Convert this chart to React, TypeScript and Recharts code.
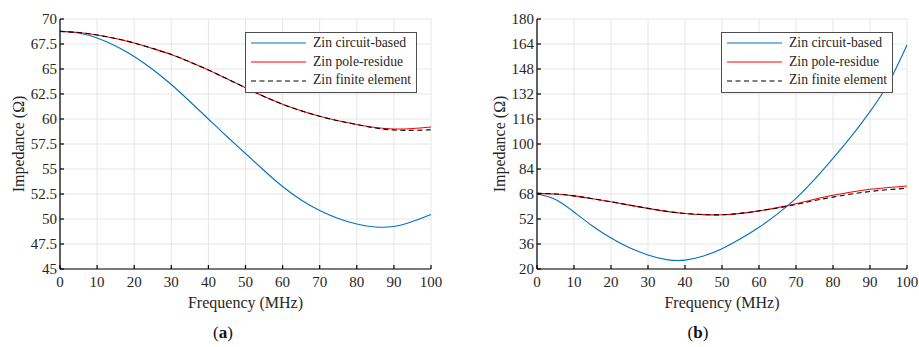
import { LineChart, Line, XAxis, YAxis, CartesianGrid, Legend } from 'recharts'

const freq = [0, 5, 10, 15, 20, 25, 30, 35, 40, 45, 50, 55, 60, 65, 70, 75, 80, 85, 90, 95, 100]

// panel (a)
const aCircuit = [68.8, 68.6, 68.1, 67.3, 66.25, 64.95, 63.45, 61.75, 60.0, 58.25, 56.55, 54.85, 53.25, 51.9, 50.85, 50.05, 49.5, 49.2, 49.25, 49.75, 50.45]
const aPole = [68.75, 68.65, 68.4, 68.05, 67.6, 67.05, 66.45, 65.7, 64.9, 64.02, 63.12, 62.25, 61.48, 60.82, 60.27, 59.82, 59.45, 59.15, 59.0, 59.05, 59.2]
const aFem = [68.75, 68.65, 68.4, 68.05, 67.6, 67.05, 66.45, 65.7, 64.9, 64.02, 63.12, 62.25, 61.48, 60.82, 60.27, 59.82, 59.45, 59.1, 58.9, 58.87, 58.92]

// panel (b)
const bCircuit = [68.2, 64.5, 56.5, 47.5, 39.8, 33.6, 29.0, 26.0, 25.7, 28.3, 33.0, 39.3, 46.7, 55.3, 65.2, 77.3, 90.8, 105.0, 120.7, 139.0, 163.4]
const bPole = [68.4, 68.0, 66.8, 65.0, 63.0, 60.9, 58.8, 56.9, 55.5, 54.8, 54.7, 55.6, 57.2, 59.3, 61.8, 64.6, 67.2, 69.3, 71.0, 72.2, 73.1]
const bFem = [68.4, 68.0, 66.8, 65.0, 63.0, 60.9, 58.8, 56.9, 55.5, 54.8, 54.7, 55.6, 57.2, 59.0, 61.3, 63.8, 66.0, 68.0, 69.6, 70.8, 71.6]

const xTicks = [0, 10, 20, 30, 40, 50, 60, 70, 80, 90, 100]
const aTicks = [45, 47.5, 50, 52.5, 55, 57.5, 60, 62.5, 65, 67.5, 70]
const bTicks = [20, 36, 52, 68, 84, 100, 116, 132, 148, 164, 180]

const SERIES = [
  { key: 'circuit', name: 'Zin circuit-based', color: '#0072BD', dash: undefined as string | undefined },
  { key: 'pole', name: 'Zin pole-residue', color: '#FF0000', dash: undefined as string | undefined },
  { key: 'fem', name: 'Zin finite element', color: '#000000', dash: '5 3.5' },
]

const FONT = '"Liberation Serif", "DejaVu Serif", serif'
const TEXT = '#262626'
const TICK_LEN = 4
const X_MARGIN = 7
const Y_MARGIN = 3

const toRows = (c: number[], p: number[], f: number[]) =>
  freq.map((fr, i) => ({ f: fr, circuit: c[i], pole: p[i], fem: f[i] }))

const BottomTick = (props: any) => {
  const { x, y, payload } = props
  const ay = y - X_MARGIN
  return (
    <g>
      <line x1={x} y1={ay} x2={x} y2={ay - TICK_LEN} stroke="#000" strokeWidth={1.2} />
      <text x={x} y={y} dy="0.71em" textAnchor="middle" fontSize={15} fill={TEXT} fontFamily={FONT}>
        {payload.value}
      </text>
    </g>
  )
}

const LeftTick = (props: any) => {
  const { x, y, payload } = props
  const ax = x + Y_MARGIN
  return (
    <g>
      <line x1={ax} y1={y} x2={ax + TICK_LEN} y2={y} stroke="#000" strokeWidth={1.2} />
      <text x={x} y={y} dy="0.33em" textAnchor="end" fontSize={15} fill={TEXT} fontFamily={FONT}>
        {payload.value}
      </text>
    </g>
  )
}

const TopTick = (props: any) => {
  const { x, y } = props
  return <line x1={x} y1={y} x2={x} y2={y + TICK_LEN} stroke="#000" strokeWidth={1.2} />
}

const RightTick = (props: any) => {
  const { x, y } = props
  return <line x1={x} y1={y} x2={x - TICK_LEN} y2={y} stroke="#000" strokeWidth={1.2} />
}

// keep the legend in series order, not sorted by name
const LegendBox = () => (
  <div
    style={{
      width: 172,
      height: 61,
      boxSizing: 'border-box',
      border: '1px solid #4d4d4d',
      background: '#fff',
      paddingTop: 1,
      fontFamily: FONT,
      fontSize: 13.7,
      color: TEXT,
    }}
  >
    {SERIES.map((s) => (
      <div key={s.key} style={{ display: 'flex', alignItems: 'center', height: 18.7, whiteSpace: 'nowrap' }}>
        <svg width={61} height={10} style={{ flex: 'none' }}>
          <line x1={5} y1={5} x2={60} y2={5} stroke={s.color} strokeWidth={1.2} strokeDasharray={s.dash} />
        </svg>
        <span style={{ marginLeft: 6, lineHeight: '18.7px', fontFamily: FONT }}>{s.name}</span>
      </div>
    ))}
  </div>
)

interface PanelProps {
  rows: { f: number; circuit: number; pole: number; fem: number }[]
  yDomain: [number, number]
  yTicks: number[]
  width: number
  marginRight: number
  legendLeft: number
  yLabelOffset: number
}

function Panel({ rows, yDomain, yTicks, width, marginRight, legendLeft, yLabelOffset }: PanelProps) {
  return (
    <LineChart width={width} height={347} data={rows} margin={{ top: 19, right: marginRight, bottom: 38, left: 0 }}>
      <CartesianGrid stroke="#e6e6e6" xAxisId="b" yAxisId="l" />
      <XAxis
        xAxisId="b"
        dataKey="f"
        type="number"
        domain={[0, 100]}
        ticks={xTicks}
        interval={0}
        height={40}
        tickSize={0}
        tickMargin={X_MARGIN}
        tickLine={false}
        tick={<BottomTick />}
        axisLine={{ stroke: '#000', strokeWidth: 1.2 }}
        label={{ value: 'Frequency (MHz)', position: 'insideBottom', offset: 1, fontSize: 16, fill: TEXT, fontFamily: FONT }}
      />
      <XAxis
        xAxisId="t"
        orientation="top"
        dataKey="f"
        type="number"
        domain={[0, 100]}
        ticks={xTicks}
        interval={0}
        height={0}
        tickSize={0}
        tickMargin={0}
        tickLine={false}
        tick={<TopTick />}
        axisLine={{ stroke: '#000', strokeWidth: 1.2 }}
      />
      <YAxis
        yAxisId="l"
        type="number"
        domain={yDomain}
        ticks={yTicks}
        interval={0}
        width={60}
        tickSize={0}
        tickMargin={Y_MARGIN}
        tickLine={false}
        tick={<LeftTick />}
        axisLine={{ stroke: '#000', strokeWidth: 1.2 }}
        label={{
          value: 'Impedance (Ω)',
          angle: -90,
          position: 'insideLeft',
          offset: yLabelOffset,
          fontSize: 16,
          fill: TEXT,
          fontFamily: FONT,
          style: { textAnchor: 'middle' },
        }}
      />
      <YAxis
        yAxisId="r"
        orientation="right"
        type="number"
        domain={yDomain}
        ticks={yTicks}
        interval={0}
        width={0}
        tickSize={0}
        tickMargin={0}
        tickLine={false}
        tick={<RightTick />}
        axisLine={{ stroke: '#000', strokeWidth: 1.2 }}
      />
      <Legend
        layout="horizontal"
        align="center"
        verticalAlign="middle"
        content={<LegendBox />}
        wrapperStyle={{ left: legendLeft, top: 32, width: 172, height: 61 }}
      />
      {SERIES.map((s) => (
        <Line
          key={s.key}
          xAxisId="b"
          yAxisId="l"
          type="natural"
          dataKey={s.key}
          name={s.name}
          stroke={s.color}
          strokeWidth={1.1}
          strokeDasharray={s.dash}
          dot={false}
          activeDot={false}
          isAnimationActive={false}
        />
      ))}
    </LineChart>
  )
}

const Caption = ({ letter, left }: { letter: string; left: number }) => (
  <div
    style={{
      position: 'absolute',
      left: left - 30,
      top: 323,
      width: 60,
      textAlign: 'center',
      fontFamily: FONT,
      fontSize: 17,
      lineHeight: '20px',
      color: '#111',
    }}
  >
    (<b>{letter}</b>)
  </div>
)

export default function App() {
  return (
    <div
      style={{
        position: 'absolute',
        left: 0,
        top: 0,
        width: 919,
        height: 347,
        background: '#fff',
        overflow: 'hidden',
        fontFamily: FONT,
      }}
    >
      <div style={{ position: 'absolute', left: 0, top: 0 }}>
        <Panel
          rows={toRows(aCircuit, aPole, aFem)}
          yDomain={[45, 70]}
          yTicks={aTicks}
          width={460}
          marginRight={29}
          legendLeft={245}
          yLabelOffset={18}
        />
      </div>
      <div style={{ position: 'absolute', left: 477, top: 0 }}>
        <Panel
          rows={toRows(bCircuit, bPole, bFem)}
          yDomain={[20, 180]}
          yTicks={bTicks}
          width={442}
          marginRight={12}
          legendLeft={244}
          yLabelOffset={22}
        />
      </div>
      <Caption letter="a" left={223} />
      <Caption letter="b" left={698} />
    </div>
  )
}
